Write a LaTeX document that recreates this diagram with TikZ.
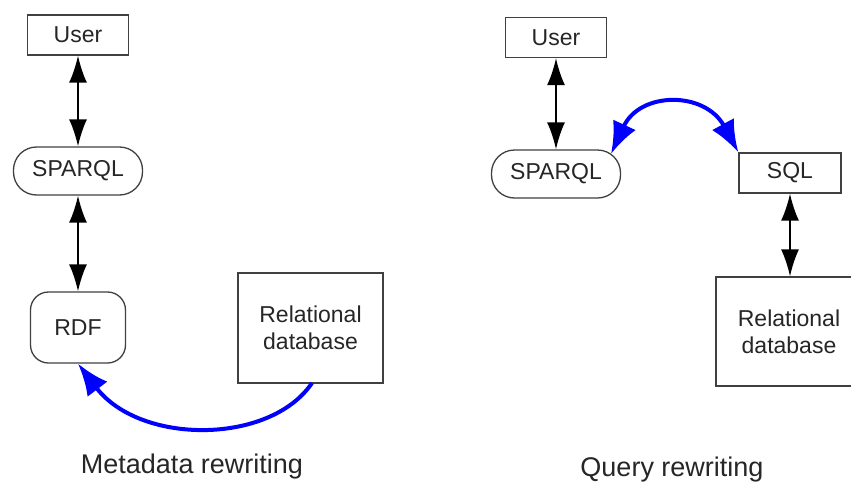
\documentclass[tikz,border=0pt]{standalone}
\usepackage{fontspec}
\setmainfont{Liberation Sans}
\usetikzlibrary{arrows.meta}
\definecolor{pureblue}{RGB}{0,0,255}
\tikzset{
  blkhead/.tip={Latex[length=27pt,width=18pt]},
  bluhead/.tip={Latex[length=32pt,width=25pt]}
}
\begin{document}
\begin{tikzpicture}[x=1pt,y=-1pt,
  every node/.style={font=\fontsize{23}{27}\selectfont, text=black!85, inner sep=0pt, align=center},
  boxnode/.style={draw=black!75, line width=1.3pt, rectangle},
  pillnode/.style={draw=black!75, line width=1.3pt, rectangle, rounded corners=23pt},
  rdfnode/.style={draw=black!75, line width=1.3pt, rectangle, rounded corners=18pt},
  blk/.style={line width=1.8pt, blkhead-blkhead},
  blu/.style={draw=pureblue, line width=4pt},
  caption/.style={font=\fontsize{27}{30}\selectfont, text=black!85}]
\path[fill=white] (0,0) rectangle (851,482);
\clip (0,0) rectangle (851,482);
\useasboundingbox (0,0) rectangle (851,482);
% left
\node[boxnode, minimum width=101pt, minimum height=40pt] (uL) at (78,35) {User};
\node[pillnode, minimum width=129pt, minimum height=48pt] (sL) at (78,171) {SPARQL};
\node[rdfnode, minimum width=95pt, minimum height=71pt] (rdfL) at (78,327.5) {RDF};
\node[boxnode, minimum width=145pt, minimum height=110pt] (dbL) at (310.5,328) {Relational\\database};
\draw[blk] (uL) -- (sL);
\draw[blk] (sL) -- (rdfL);
\coordinate (dbLs) at (312,383);
\draw[blu, -bluhead] (dbLs) .. controls (270,445) and (140,445) .. (rdfL.south);
\node[caption] (capL) at (192,467) {Metadata rewriting};
% right
\node[boxnode, minimum width=101pt, minimum height=40pt] (uR) at (556,37.5) {User};
\node[pillnode, minimum width=129pt, minimum height=48pt] (sR) at (556,174) {SPARQL};
\node[boxnode, minimum width=102pt, minimum height=40pt] (sqlR) at (790,173) {SQL};
\node[boxnode, minimum width=146pt, minimum height=109pt] (dbR) at (789,331.5) {Relational\\database};
\draw[blk] (uR) -- (sR);
\draw[blk] (sqlR) -- (sqlR |- dbR.north);
\coordinate (bs) at (611,154);
\draw[blu, bluhead-bluhead] (bs) .. controls (640,91) and (705,91) .. (sqlR.north west);
\node[caption] (capR) at (672,470) {Query rewriting};
\end{tikzpicture}
\end{document}
